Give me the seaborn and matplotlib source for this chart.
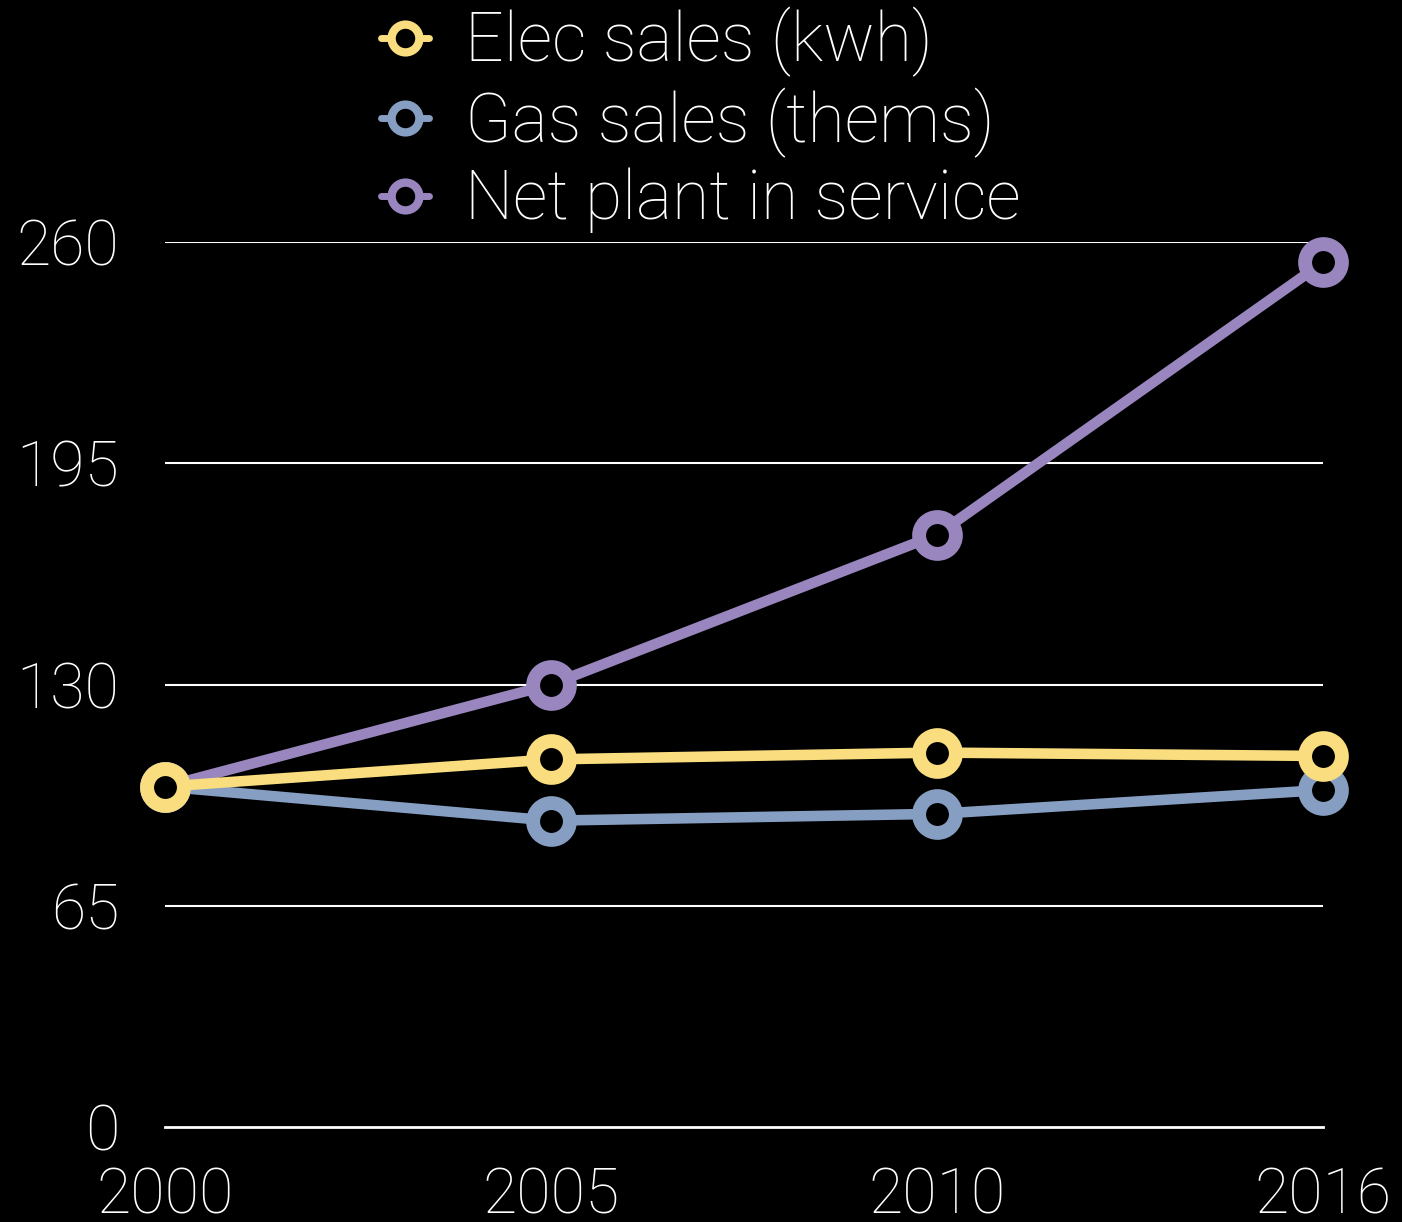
import numpy as np
import pandas as pd
import matplotlib
matplotlib.use("Agg")
import matplotlib.pyplot as plt
from matplotlib.lines import Line2D
import seaborn as sns

# Index values (2000 = 100)
years = ["2000", "2005", "2010", "2016"]
elec_sales = [100, 108, 110, 109]
gas_sales = [100, 90, 92, 99]
net_plant = [100, 130, 174, 254]
y_ticks = [0, 65, 130, 195, 260]

labels = ["Elec sales (kwh)", "Gas sales (thems)", "Net plant in service"]
colors = ["#F9DD7E", "#869EC1", "#9A86BE"]
series = [elec_sales, gas_sales, net_plant]

sns.set_theme(style="dark")
plt.rcParams["font.family"] = ["Roboto", "DejaVu Sans"]

fig = plt.figure(figsize=(14.02, 12.22), dpi=100, facecolor="black")
ax = fig.add_axes([165 / 1402, 1 - 1127 / 1222, (1323 - 165) / 1402, (1127 - 242) / 1222])
ax.set_facecolor("black")

pos = np.arange(len(years))
# draw back-to-front: net plant, gas, elec
for idx in [2, 1, 0]:
    df = pd.DataFrame({"pos": pos, "value": series[idx]})
    sns.lineplot(data=df, x="pos", y="value", ax=ax, color=colors[idx],
                 linewidth=7.6, marker="o", markersize=26.5,
                 markeredgewidth=10, markeredgecolor=colors[idx],
                 markerfacecolor="black", clip_on=False, zorder=3 + (2 - idx))

ax.set_xlim(0, 3)
ax.set_ylim(0, 260)
ax.set_xticks(pos)
ax.set_xticklabels(years)
ax.set_yticks(y_ticks)
ax.set_xlabel("")
ax.set_ylabel("")
ax.grid(False)
for yv in y_ticks[1:]:
    ax.axhline(yv, color="white", lw=1.5, zorder=1)
for s in ["top", "right", "left"]:
    ax.spines[s].set_visible(False)
ax.spines["bottom"].set_color("white")
ax.spines["bottom"].set_linewidth(2)
ax.tick_params(axis="both", length=0, colors="white", labelsize=45)
ax.tick_params(axis="y", pad=33)
ax.tick_params(axis="x", pad=28)
for t in ax.get_xticklabels() + ax.get_yticklabels():
    t.set_fontweight("light")

handles = [Line2D([0], [0], color=c, lw=5, marker="o", markersize=20,
                  markeredgewidth=6, markeredgecolor=c, markerfacecolor="black")
           for c in colors]
leg = fig.legend(handles, labels, loc="upper left",
                 bbox_to_anchor=(381 / 1402, 1 - 7 / 1222),
                 frameon=False, fontsize=49, handlelength=0.7,
                 handletextpad=0.54, labelspacing=0.15, borderpad=0,
                 borderaxespad=0)
for t in leg.get_texts():
    t.set_color("white")
    t.set_fontweight("light")

fig.savefig("out.png", dpi=100, facecolor="black")
